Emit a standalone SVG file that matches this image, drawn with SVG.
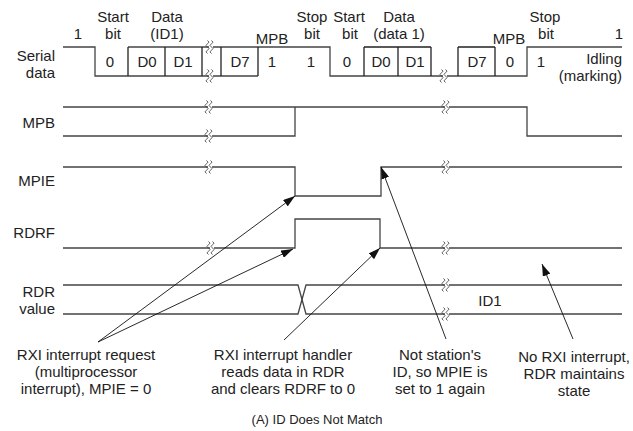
<svg xmlns="http://www.w3.org/2000/svg" xmlns:xlink="http://www.w3.org/1999/xlink" width="633" height="431" viewBox="0 0 633 431">
<style>
text{font-family:"Liberation Sans",Arial,sans-serif;font-size:15px;fill:#222}
.m{text-anchor:middle}
.e{text-anchor:end}
.sig{fill:none;stroke:#444;stroke-width:1.3}
.box{fill:none;stroke:#222;stroke-width:1.3}
.arr{fill:none;stroke:#111;stroke-width:0.9;marker-end:url(#ah)}
.cap{font-size:13px}
</style>
<defs>
<marker id="ah" viewBox="0 0 12 8" refX="12" refY="4" markerWidth="12" markerHeight="8" markerUnits="userSpaceOnUse" orient="auto">
<path d="M0,0 L12,4 L0,8 z" fill="#111"/>
</marker>
<g id="brk">
<rect x="-2" y="-2" width="4" height="4" fill="#fff"/>
<path d="M-3.5,-6.5 q3,1.6 0,3.25 t0,3.25 t0,3.25 t0,3.25 M0.5,-6.5 q3,1.6 0,3.25 t0,3.25 t0,3.25 t0,3.25" fill="none" stroke="#333" stroke-width="0.8"/>
</g>
</defs>

<g id="labels">
<text class="e" x="55" y="61">Serial</text>
<text class="e" x="55" y="78">data</text>
<text class="e" x="55" y="128">MPB</text>
<text class="e" x="55" y="186">MPIE</text>
<text class="e" x="55" y="238">RDRF</text>
<text class="e" x="55" y="297">RDR</text>
<text class="e" x="55" y="314">value</text>
</g>

<g id="serial">
<path class="sig" d="M63,47 H95 V76 H258"/>
<path class="sig" d="M128,47 H330 V76 H527 V47 H622"/>
<path class="box" d="M364,47 H431 M458,47 H495"/>
<path class="box" d="M128,47 V76 M165,47 V76 M202,47 V76 M221,47 V76 M258,47 V76 M364,47 V76 M398,47 V76 M431,47 V76 M458,47 V76 M495,47 V76"/>
<use xlink:href="#brk" x="211" y="47"/>
<use xlink:href="#brk" x="211" y="76"/>
<use xlink:href="#brk" x="445" y="76"/>
<text class="m" x="78" y="39">1</text>
<text class="m" x="113" y="22">Start</text>
<text class="m" x="113" y="39">bit</text>
<text class="m" x="167" y="22">Data</text>
<text class="m" x="167" y="39">(ID1)</text>
<text class="m" x="272" y="44">MPB</text>
<text class="m" x="312" y="22">Stop</text>
<text class="m" x="312" y="39">bit</text>
<text class="m" x="349" y="22">Start</text>
<text class="m" x="350" y="39">bit</text>
<text class="m" x="399" y="22">Data</text>
<text class="m" x="399" y="39">(data 1)</text>
<text class="m" x="509" y="44">MPB</text>
<text class="m" x="545" y="22">Stop</text>
<text class="m" x="546" y="39">bit</text>
<text class="m" x="619" y="39">1</text>
<text class="m" x="110" y="67">0</text>
<text class="m" x="147" y="67">D0</text>
<text class="m" x="183" y="67">D1</text>
<text class="m" x="240" y="67">D7</text>
<text class="m" x="272" y="67">1</text>
<text class="m" x="311" y="67">1</text>
<text class="m" x="347" y="67">0</text>
<text class="m" x="381" y="67">D0</text>
<text class="m" x="415" y="67">D1</text>
<text class="m" x="477" y="67">D7</text>
<text class="m" x="510" y="67">0</text>
<text class="m" x="541" y="67">1</text>
<text class="e" x="622" y="64">Idling</text>
<text class="e" x="622" y="81">(marking)</text>
</g>

<g id="mpb">
<path class="sig" d="M63,107 H527 V136 H622"/>
<path class="sig" d="M63,136 H295 V107"/>
<use xlink:href="#brk" x="210" y="107"/>
<use xlink:href="#brk" x="210" y="136"/>
<use xlink:href="#brk" x="447" y="107"/>
</g>

<g id="mpie">
<path class="sig" d="M63,167 H295 V196 H381 V167 H622"/>
<use xlink:href="#brk" x="210" y="167"/>
<use xlink:href="#brk" x="447" y="167"/>
</g>

<g id="rdrf">
<path class="sig" d="M63,248 H295 V219 H380 V248 H622"/>
<use xlink:href="#brk" x="212" y="248"/>
<use xlink:href="#brk" x="447" y="248"/>
</g>

<g id="rdr">
<path class="sig" d="M63,285 H298 L306,314 H622"/>
<path class="sig" d="M63,314 H298 L306,285 H622"/>
<use xlink:href="#brk" x="447" y="285"/>
<use xlink:href="#brk" x="447" y="314"/>
<text class="m" x="490" y="306">ID1</text>
</g>

<g id="connectors">
<path class="arr" d="M98,342 L295,196"/>
<path class="arr" d="M98,342 L293,249"/>
<path class="arr" d="M284,340 L380,248"/>
<path class="arr" d="M446,339 L381,167"/>
<path class="arr" d="M573,339 L542,264"/>
</g>

<g id="notes">
<text class="m" x="86" y="360">RXI interrupt request</text>
<text class="m" x="86" y="377">(multiprocessor</text>
<text class="m" x="86" y="394">interrupt), MPIE = 0</text>
<text class="m" x="283" y="360">RXI interrupt  handler</text>
<text class="m" x="283" y="377">reads data in RDR</text>
<text class="m" x="283" y="394">and clears RDRF to 0</text>
<text class="m" x="440" y="360">Not station's</text>
<text class="m" x="440" y="377">ID, so MPIE is</text>
<text class="m" x="440" y="394">set to 1 again</text>
<text class="m" x="574" y="362">No RXI interrupt,</text>
<text class="m" x="574" y="379">RDR maintains</text>
<text class="m" x="574" y="396">state</text>
<text class="m cap" x="317" y="424">(A) ID Does Not Match</text>
</g>
</svg>
